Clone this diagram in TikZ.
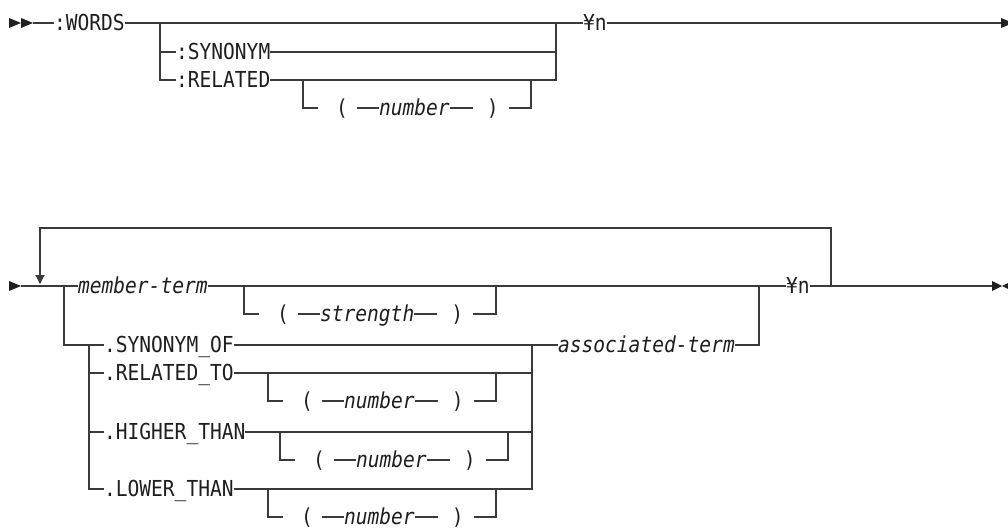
\documentclass[tikz,border=0pt]{standalone}
\usepackage{fontspec}
\usetikzlibrary{calc,arrows.meta}
\newfontfamily\rrfont[FakeStretch=0.89]{DejaVu Sans Mono}
\definecolor{lc}{HTML}{3A3A3A}
\definecolor{tc}{HTML}{1E1E1E}
\definecolor{ac}{HTML}{202020}
\tikzset{
  rr/.style={draw=lc, line width=1.2pt},
  txt/.style={inner sep=0pt, outer sep=0pt, text height=15pt, text depth=0pt, anchor=west, text=tc,
              font=\rrfont\fontsize{22pt}{24pt}\selectfont},
  var/.style={txt, font=\rrfont\itshape\fontsize{22pt}{24pt}\selectfont},
  paren/.style={txt, anchor=center},
  tipfill/.style={fill=ac, draw=none},
}
\newcommand\rrbracket[5]{%
  \coordinate (#1l) at (#2,#3);
  \coordinate (#1r) at (#5,#3);
  \node[paren] (#1p) at ($(#1l)+(39,28)$) {(};
  \node[var] (#1w) at ($(#1l)+(76,28)$) {#4};
  \node[paren] (#1q) at ($(#1w.east)+(43,0)$) {)};
  \draw[rr] (#1l) -- ++(0,28) -- ++(15,0);
  \draw[rr] ([xshift=-22pt]#1w.west) -- (#1w.west);
  \draw[rr] (#1w.east) -- ++(23,0);
  \draw[rr] ([xshift=16pt]#1q.center) -| (#1r);
}
\begin{document}
\begin{tikzpicture}[x=1pt,y=-1pt]
\path[use as bounding box] (0,0) rectangle (1008,529);

% ---------- Row 1 ----------
\fill[tipfill] (9,18) -- (21,23) -- (9,28) -- cycle;
\fill[tipfill] (21,18) -- (33,23) -- (21,28) -- cycle;
\coordinate (s1) at (33,23);
\node[txt] (words) at (54,23) {:WORDS};
\coordinate (b1l) at (160,23);
\node[txt] (syn) at (176,52) {:SYNONYM};
\node[txt] (rel) at (176,80) {:RELATED};
\coordinate (b1r) at (556,23);
\node[txt] (yen1) at (583,23) {¥n};
\coordinate (e1) at (1001,23);

\draw[rr] (s1) -- (words.west);
\draw[rr] (words.east) -- (b1r) -- (yen1.west);
\draw[rr] (yen1.east) -- (e1);
\draw[rr] (b1l) |- (syn.west);
\draw[rr] (b1l) |- (rel.west);
\draw[rr] (syn.east) -| (b1r);
\draw[rr] (rel.east) -| (b1r);
\rrbracket{ka}{303}{80}{number}{531}
\fill[tipfill] (1001,18) -- (1013,23) -- (1001,28) -- cycle;

% ---------- Row 2 ----------
\fill[tipfill] (9,281) -- (21,286) -- (9,291) -- cycle;
\coordinate (s2) at (21,286);
\coordinate (lpt) at (40,284);
\coordinate (b2l) at (64,286);
\node[var] (mt) at (78,286) {member-term};
\rrbracket{st}{244}{286}{strength}{496}
\coordinate (b2r) at (759,286);
\node[txt] (yen2) at (786,286) {¥n};
\coordinate (lr) at (831,286);
\coordinate (ltop) at (40,228);
\coordinate (e2) at (992,286);

\draw[rr] (s2) -- (mt.west);
\draw[rr] (mt.east) -- (yen2.west);
\draw[rr] (yen2.east) -- (e2);
\draw[rr, -{Triangle[width=9pt,length=9pt]}] (lr) |- (ltop) -- (lpt);

\node[txt] (so) at (104,345) {.SYNONYM\_OF};
\coordinate (g2l) at (89,345);
\node[txt] (rt) at (104,373) {.RELATED\_TO};
\node[txt] (ht) at (104,432) {.HIGHER\_THAN};
\node[txt] (lt) at (104,489) {.LOWER\_THAN};
\coordinate (g2r) at (532,345);
\node[var] (asc) at (558,345) {associated-term};

\draw[rr] (b2l) |- (so.west);
\draw[rr] (g2l) |- (rt.west);
\draw[rr] (g2l) |- (ht.west);
\draw[rr] (g2l) |- (lt.west);
\draw[rr] (so.east) -- (asc.west);
\draw[rr] (rt.east) -| (g2r);
\draw[rr] (ht.east) -| (g2r);
\draw[rr] (lt.east) -| (g2r);
\draw[rr] (asc.east) -| (b2r);
\rrbracket{ra}{268}{373}{number}{496}
\rrbracket{ha}{280}{432}{number}{508}
\rrbracket{la}{268}{489}{number}{496}

\fill[tipfill] (992,281) -- (1002,286) -- (992,291) -- cycle;
\fill[tipfill] (1012,281) -- (1002,286) -- (1012,291) -- cycle;
\end{tikzpicture}
\end{document}
